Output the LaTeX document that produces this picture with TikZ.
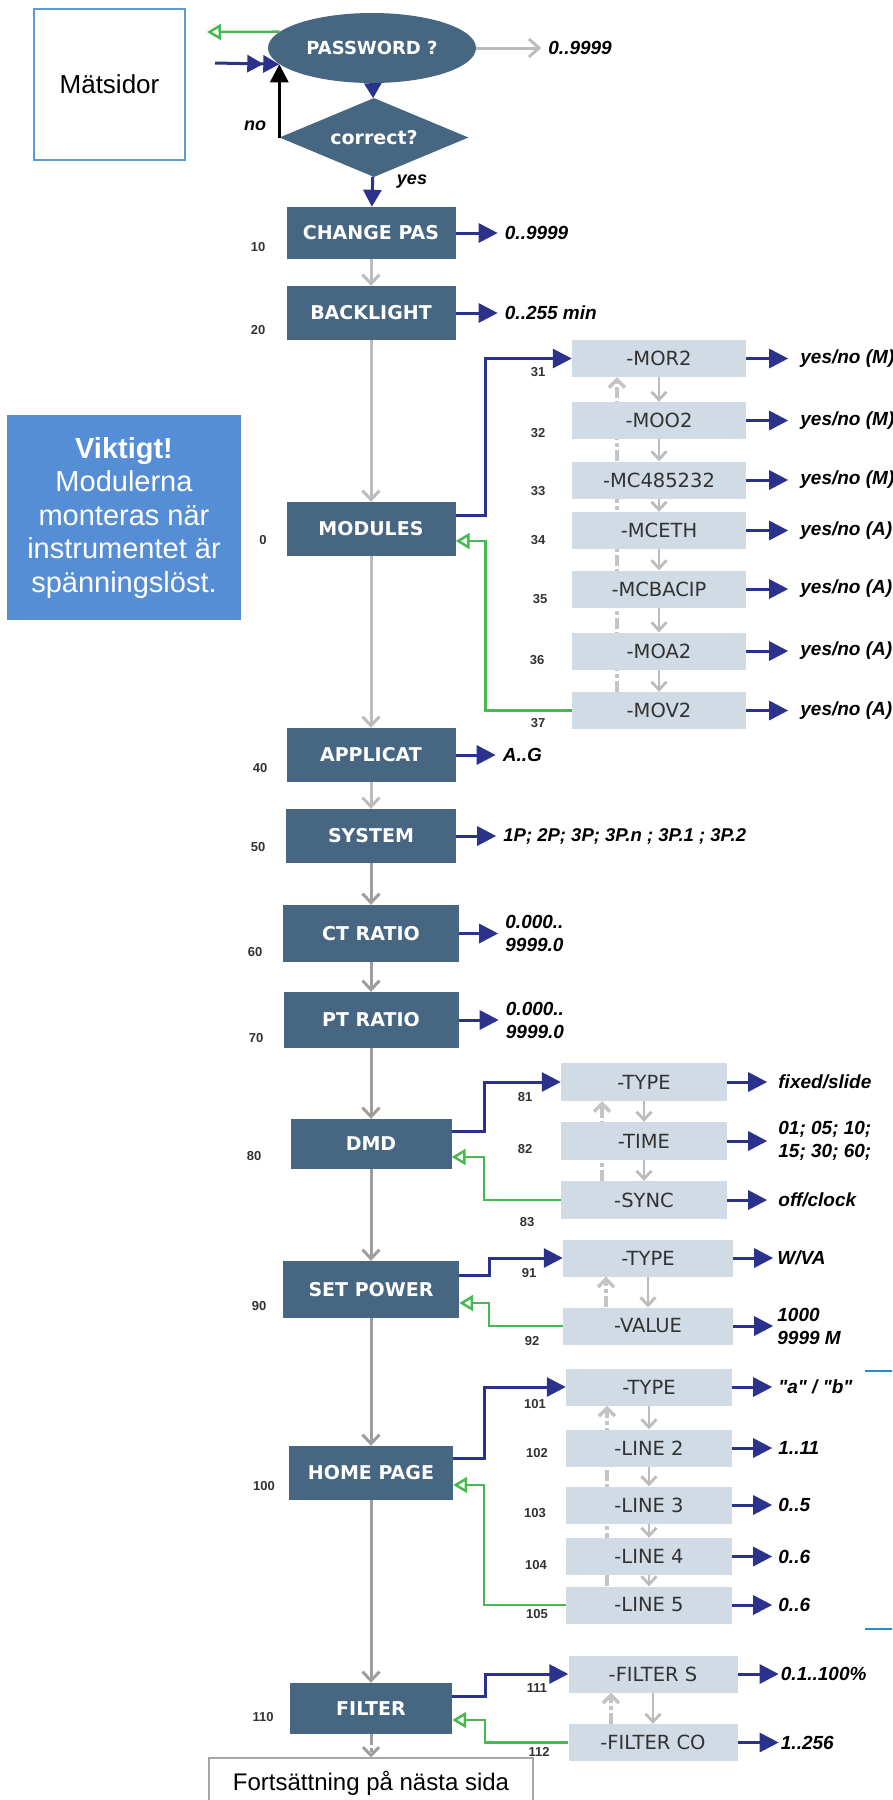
\documentclass[tikz,border=0pt]{standalone}
\usepackage{fontspec}
\setmainfont{Liberation Sans}
\newfontfamily\boxfont{DejaVu Sans}
\usetikzlibrary{arrows.meta,positioning,calc,shapes.geometric}
\definecolor{boxblue}{RGB}{71,102,130}
\definecolor{subfill}{RGB}{208,219,229}
\definecolor{subtext}{RGB}{50,50,50}
\definecolor{navy}{RGB}{43,50,140}
\definecolor{okgreen}{RGB}{70,185,80}
\definecolor{lightgr}{RGB}{188,188,188}
\definecolor{midgr}{RGB}{158,158,158}
\definecolor{dashgr}{RGB}{196,196,196}
\definecolor{numgray}{RGB}{50,50,50}
\definecolor{vikblue}{RGB}{85,142,213}
\definecolor{matsblue}{RGB}{91,155,213}
\definecolor{contgray}{RGB}{166,166,166}
\definecolor{edgeblue}{RGB}{30,140,210}
\pgfdeclarelayer{back}
\pgfsetlayers{back,main}

\begin{document}
\begin{tikzpicture}[x=1pt,y=-1pt,
  darkbox/.style={fill=boxblue,text=white,inner sep=0pt,font=\boxfont\bfseries\fontsize{19}{22}\selectfont},
  subbox/.style={fill=subfill,text=subtext,inner sep=0pt,minimum height=37pt,font=\boxfont\fontsize{19.5}{22}\selectfont},
  val/.style={anchor=west,inner ysep=0pt,inner xsep=7pt,align=left,font=\bfseries\itshape\fontsize{19}{23}\selectfont},
  num/.style={text=numgray,inner sep=0pt,font=\bfseries\fontsize{13}{15}\selectfont},
  lab/.style={inner sep=0pt,font=\bfseries\itshape\fontsize{18}{21}\selectfont},
  goarrow/.style={draw=navy,line width=3pt,-{Triangle[length=19pt,width=19pt]}},
  backarrow/.style={draw=okgreen,line width=2.5pt,-{Triangle[open,length=14pt,width=16pt]}},
  nextarrow/.style={draw=lightgr,line width=3pt,-{Straight Barb[length=9pt,width=17pt]}},
  steparrow/.style={draw=lightgr,line width=2.8pt,-{Straight Barb[length=8pt,width=15pt]}},
  uparrow/.style={draw=dashgr,line width=3.5pt,dash pattern=on 11pt off 3pt on 4pt off 3pt,-{Straight Barb[length=8pt,width=16pt]}}]
\useasboundingbox (0,0) rectangle (892,1800);

\node[draw=matsblue,line width=1.5pt,minimum width=151pt,minimum height=151pt,font=\fontsize{26}{30}\selectfont] (mats) at (109.5,84.5) {Mätsidor};
\node[fill=vikblue,text=white,minimum width=234pt,minimum height=205pt,align=center,font=\fontsize{29}{33.5}\selectfont] (viktigt) at (124,517.5) {\textbf{Viktigt!}\\Modulerna\\monteras när\\instrumentet är\\spänningslöst.};

\node[ellipse,fill=boxblue,text=white,inner sep=0pt,minimum width=208pt,minimum height=70pt,font=\boxfont\bfseries\fontsize{18}{21}\selectfont] (pw) at (372,48) {PASSWORD ?};
\node[diamond,aspect=2.4,fill=boxblue,text=white,inner sep=0pt,minimum width=189pt,minimum height=79pt,font=\boxfont\bfseries\fontsize{19}{22}\selectfont] (corr) at (374,137.5) {correct?};
\node[lab] (no) at (255,126) {no};
\node[lab] (yes) at (412,182) {yes};
\node[val,right=65pt of pw] (vpw) {0..9999};
\coordinate (outpw) at (207,32);
\coordinate (inpw) at (215,63);

\node[darkbox,minimum width=169pt,minimum height=52pt] (chpas) at (371,233) {CHANGE PAS};
\node[darkbox,minimum width=169pt,minimum height=54pt] (blight) at (371,313) {BACKLIGHT};
\node[darkbox,minimum width=169pt,minimum height=54pt] (modules) at (371,529) {MODULES};
\node[darkbox,minimum width=169pt,minimum height=54pt] (applicat) at (371,755) {APPLICAT};
\node[darkbox,minimum width=170pt,minimum height=54pt] (system) at (371,836) {SYSTEM};
\node[darkbox,minimum width=176pt,minimum height=57pt] (ctratio) at (371,933.5) {CT RATIO};
\node[darkbox,minimum width=175pt,minimum height=56pt] (ptratio) at (371,1020) {PT RATIO};
\node[darkbox,minimum width=161pt,minimum height=50pt] (dmd) at (371,1144) {DMD};
\node[darkbox,minimum width=176pt,minimum height=57pt] (setpow) at (371,1289.5) {SET POWER};
\node[darkbox,minimum width=164pt,minimum height=54pt] (home) at (371,1473) {HOME PAGE};
\node[darkbox,minimum width=162pt,minimum height=51pt] (filter) at (371,1708.5) {FILTER};
\node[draw=contgray,line width=1.5pt,minimum width=324pt,minimum height=50pt,font=\fontsize{24}{28}\selectfont] (cont) at (371,1783) {Fortsättning på nästa sida};

\node[val,right=42pt of chpas] (vchpas) {0..9999};
\node[val,right=42pt of blight] (vblight) {0..255 min};
\node[val,right=40pt of applicat] (vapplicat) {A..G};
\node[val,right=40pt of system,font=\bfseries\itshape\fontsize{18.5}{23}\selectfont] (vsystem) {1P; 2P; 3P; 3P.n ; 3P.1 ; 3P.2};
\node[val,right=39pt of ctratio] (vctratio) {0.000..\\9999.0};
\node[val,right=40pt of ptratio] (vptratio) {0.000..\\9999.0};

\node[subbox,minimum width=174pt] (mor2) at (659,358.5) {-MOR2};
\node[subbox,minimum width=174pt] (moo2) at (659,420.5) {-MOO2};
\node[subbox,minimum width=174pt] (mc485) at (659,480) {-MC485232};
\node[subbox,minimum width=174pt] (mceth) at (659,530.5) {-MCETH};
\node[subbox,minimum width=174pt] (mcbac) at (659,589) {-MCBACIP};
\node[subbox,minimum width=174pt] (moa2) at (659,651) {-MOA2};
\node[subbox,minimum width=174pt] (mov2) at (659,710.5) {-MOV2};
\node[val,inner xsep=12pt,right=42pt of mor2] (vmor2) {yes/no (M)};
\node[val,inner xsep=12pt,right=42pt of moo2] (vmoo2) {yes/no (M)};
\node[val,inner xsep=12pt,right=42pt of mc485] (vmc485) {yes/no (M)};
\node[val,inner xsep=12pt,right=42pt of mceth] (vmceth) {yes/no (A)};
\node[val,inner xsep=12pt,right=42pt of mcbac] (vmcbac) {yes/no (A)};
\node[val,inner xsep=12pt,right=42pt of moa2] (vmoa2) {yes/no (A)};
\node[val,inner xsep=12pt,right=42pt of mov2] (vmov2) {yes/no (A)};

\node[subbox,minimum width=166pt,minimum height=38pt] (dtype) at (644,1082) {-TYPE};
\node[subbox,minimum width=166pt,minimum height=38pt] (dtime) at (644,1141) {-TIME};
\node[subbox,minimum width=166pt,minimum height=38pt] (dsync) at (644,1200) {-SYNC};
\node[val,inner xsep=11pt,right=40pt of dtype] (vdtype) {fixed/slide};
\node[val,inner xsep=11pt,right=40pt of dtime] (vdtime) {01; 05; 10;\\15; 30; 60;};
\node[val,inner xsep=11pt,right=40pt of dsync] (vdsync) {off/clock};

\node[subbox,minimum width=170pt] (ptype) at (648,1258) {-TYPE};
\node[subbox,minimum width=170pt] (pvalue) at (648,1326) {-VALUE};
\node[val,inner xsep=4pt,right=40pt of ptype] (vptype) {W/VA};
\node[val,inner xsep=4pt,right=40pt of pvalue] (vpvalue) {1000\\9999 M};

\node[subbox,minimum width=166pt] (htype) at (649,1387) {-TYPE};
\node[subbox,minimum width=166pt] (hl2) at (649,1448) {-LINE 2};
\node[subbox,minimum width=166pt] (hl3) at (649,1505) {-LINE 3};
\node[subbox,minimum width=166pt] (hl4) at (649,1556.5) {-LINE 4};
\node[subbox,minimum width=166pt] (hl5) at (649,1605) {-LINE 5};
\node[val,inner xsep=6pt,right=40pt of htype] (vhtype) {\addfontfeatures{Ligatures=TeXOff}"a" / "b"};
\node[val,inner xsep=6pt,right=40pt of hl2] (vhl2) {1..11};
\node[val,inner xsep=6pt,right=40pt of hl3] (vhl3) {0..5};
\node[val,inner xsep=6pt,right=40pt of hl4] (vhl4) {0..6};
\node[val,inner xsep=6pt,right=40pt of hl5] (vhl5) {0..6};

\node[subbox,minimum width=169pt] (fs) at (653,1674) {-FILTER S};
\node[subbox,minimum width=169pt] (fco) at (653,1742.5) {-FILTER CO};
\node[val,inner xsep=2pt,right=41pt of fs] (vfs) {0.1..100\%};
\node[val,inner xsep=2pt,right=41pt of fco] (vfco) {1..256};

\foreach \t/\x/\y in {10/258/247,20/258/330,0/263/540,31/538/372,32/538/433,33/538/491,34/538/540,35/540/599,36/537/660,37/538/723,
  40/260/768,50/258/847,60/255/952,70/256/1038,80/254/1156,81/525/1097,82/525/1149,83/527/1222,90/259/1306,91/529/1273,92/532/1341,
  100/264/1486,101/535/1404,102/537/1453,103/535/1513,104/536/1565,105/537/1614,110/263/1717,111/537/1688,112/539/1752}
  \node[num] (n\t) at (\x,\y) {\t};

\draw[draw=edgeblue,line width=2pt] (865,1371) -- (892,1371);
\draw[draw=edgeblue,line width=2pt] (865,1629) -- (892,1629);

\begin{pgfonlayer}{back}
\draw[uparrow] ([xshift=-42pt]mov2.north) -- ([xshift=-42pt]mor2.south);
\draw[uparrow] ([xshift=-42pt]dsync.north) -- ([xshift=-42pt]dtype.south);
\draw[uparrow] ([xshift=-42pt]pvalue.north) -- ([xshift=-42pt]ptype.south);
\draw[uparrow] ([xshift=-42pt]hl5.north) -- ([xshift=-42pt]htype.south);
\draw[uparrow] ([xshift=-42pt]fco.north) -- ([xshift=-42pt]fs.south);
\end{pgfonlayer}

\draw[backarrow] (pw.170) -- (outpw);
\draw[goarrow,-{Triangle[length=16pt,width=17pt]Triangle[length=16pt,width=17pt]}] (inpw) -- (corr.west |- pw.190);
\draw[line width=3pt,-{Triangle[length=18pt,width=18pt]}] (corr.west) -- (corr.west |- pw.190);
\draw[goarrow,-{Triangle[length=15pt,width=17pt]}] (pw) -- (corr);
\draw[goarrow,-{Triangle[length=17pt,width=18pt]}] (corr) -- (chpas);
\draw[nextarrow,-{Straight Barb[length=10pt,width=18pt]}] (pw) -- (vpw);

\draw[nextarrow] (chpas) -- (blight);
\draw[nextarrow] (blight) -- (modules);
\draw[nextarrow] (modules) -- (applicat);
\draw[nextarrow] (applicat) -- (system);
\draw[nextarrow,draw=midgr] (system) -- (ctratio);
\draw[nextarrow,draw=midgr] (ctratio) -- (ptratio);
\draw[nextarrow,draw=midgr] (ptratio) -- (dmd);
\draw[nextarrow,draw=midgr] (dmd) -- (setpow);
\draw[nextarrow,draw=midgr] (setpow) -- (home);
\draw[nextarrow,draw=midgr] (home) -- (filter);
\draw[uparrow,draw=midgr,line width=3pt] (filter) -- (cont);

\draw[goarrow] (chpas) -- (vchpas);
\draw[goarrow] (blight) -- (vblight);
\draw[goarrow] (applicat) -- (vapplicat);
\draw[goarrow] (system) -- (vsystem);
\draw[goarrow] (ctratio) -- (vctratio);
\draw[goarrow] (ptratio) -- (vptratio);

\draw[goarrow] ([yshift=14pt]modules.east) -- ++(30,0) |- (mor2.west);
\draw[backarrow] (mov2.west) -| ($(modules.east)+(30,12)$) -- ([yshift=-12pt]modules.east);
\draw[steparrow] (mor2) -- (moo2);
\draw[steparrow] (moo2) -- (mc485);
\draw[steparrow] (mc485) -- (mceth);
\draw[steparrow] (mceth) -- (mcbac);
\draw[steparrow] (mcbac) -- (moa2);
\draw[steparrow] (moa2) -- (mov2);
\foreach \m in {mor2,moo2,mc485,mceth,mcbac,moa2,mov2}
  \draw[goarrow] (\m) -- (v\m);

\draw[goarrow] ([yshift=13pt]dmd.east) -- ++(32.5,0) |- (dtype.west);
\draw[backarrow] (dsync.west) -| ($(dmd.east)+(32.5,13)$) -- ([yshift=-13pt]dmd.east);
\draw[steparrow] (dtype) -- (dtime);
\draw[steparrow] (dtime) -- (dsync);
\foreach \m in {dtype,dtime,dsync}
  \draw[goarrow] (\m) -- (v\m);

\draw[goarrow] ([yshift=14.5pt]setpow.east) -- ++(30,0) |- (ptype.west);
\draw[backarrow] (pvalue.west) -| ($(setpow.east)+(30,13.5)$) -- ([yshift=-13.5pt]setpow.east);
\draw[steparrow] (ptype) -- (pvalue);
\foreach \m in {ptype,pvalue}
  \draw[goarrow] (\m) -- (v\m);

\draw[goarrow] ([yshift=15pt]home.east) -- ++(31,0) |- (htype.west);
\draw[backarrow] (hl5.west) -| ($(home.east)+(31,12)$) -- ([yshift=-12pt]home.east);
\draw[steparrow] (htype) -- (hl2);
\draw[steparrow] (hl2) -- (hl3);
\draw[steparrow] (hl3) -- (hl4);
\draw[steparrow] (hl4) -- (hl5);
\foreach \m in {htype,hl2,hl3,hl4,hl5}
  \draw[goarrow] (\m) -- (v\m);

\draw[goarrow] ([yshift=12.5pt]filter.east) -- ++(33,0) |- (fs.west);
\draw[backarrow] (fco.west) -| ($(filter.east)+(33,11.5)$) -- ([yshift=-11.5pt]filter.east);
\draw[steparrow] (fs) -- (fco);
\foreach \m in {fs,fco}
  \draw[goarrow] (\m) -- (v\m);
\end{tikzpicture}
\end{document}
